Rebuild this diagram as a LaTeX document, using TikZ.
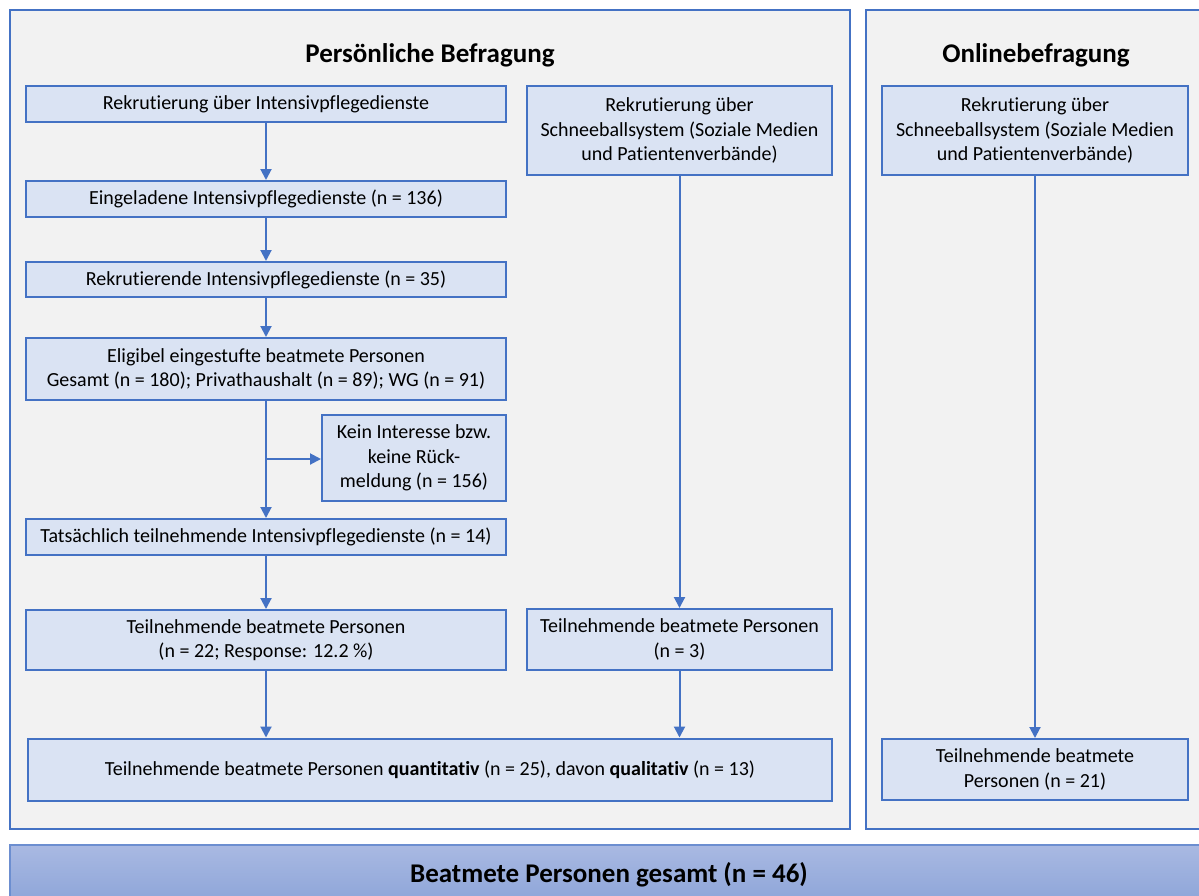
\documentclass[tikz,border=0pt]{standalone}
\usepackage{fontspec}
\setmainfont{Carlito}[Ligatures={NoCommon}]
\usetikzlibrary{arrows.meta}
\definecolor{bblue}{HTML}{4472C4}
\definecolor{bfill}{HTML}{DAE3F3}
\definecolor{pfill}{HTML}{F2F2F2}
\definecolor{gtop}{HTML}{A9B9E2}
\definecolor{gbot}{HTML}{8CA4D8}
\tikzset{
  panel/.style={draw=bblue, fill=pfill, line width=2pt},
  box/.style={draw=bblue, fill=bfill, line width=2pt, inner sep=0pt, align=center,
    font=\fontsize{20}{24.4}\selectfont},
  arr/.style={draw=bblue, line width=2pt, -{Triangle[length=11pt,width=11pt]}},
  ttl/.style={font=\fontsize{27}{32}\selectfont\bfseries}
}
\begin{document}
\begin{tikzpicture}[x=1pt,y=-1pt]
\useasboundingbox (0,0) rectangle (1199,895);
% panels
\draw[panel] (10,10) rectangle (850,829);
\draw[panel] (866,10) rectangle (1210,829);
\shade[top color=gtop, bottom color=gbot] (10,845) rectangle (1210,905);
\draw[draw=bblue!60!gtop, line width=1.5pt] (10,905) -- (10,845) -- (1210,845);
\node[ttl] (t1) at (430,55) {Persönliche Befragung};
\node[ttl] (t2) at (1036,55) {Onlinebefragung};
\node[ttl] (t3) at (609,875) {Beatmete Personen gesamt (n = 46)};
% left column
\node[box, minimum width=480, minimum height=36] (a1) at (266,104) {Rekrutierung über Intensivpflegedienste};
\node[box, minimum width=480, minimum height=36] (a2) at (266,199) {Eingeladene Intensivpflegedienste (n = 136)};
\node[box, minimum width=480, minimum height=35] (a3) at (266,279.5) {Rekrutierende Intensivpflegedienste (n = 35)};
\node[box, minimum width=480, minimum height=62] (a4) at (266,369) {Eligibel eingestufte beatmete Personen\\Gesamt (n = 180); Privathaushalt (n = 89); WG (n = 91)};
\node[box, minimum width=184, minimum height=86] (a5) at (414,458) {Kein Interesse bzw.\\keine Rück-\\meldung (n = 156)};
\node[box, minimum width=480, minimum height=36] (a6) at (266,537) {Tatsächlich teilnehmende Intensivpflegedienste (n = 14)};
\node[box, minimum width=480, minimum height=60] (a7) at (266,640) {Teilnehmende beatmete Personen\\(n = 22; Response: 12.2 \%)};
% middle column
\node[box, minimum width=305, minimum height=89] (b1) at (679.5,130.5) {Rekrutierung über\\Schneeballsystem (Soziale Medien\\und Patientenverbände)};
\node[box, minimum width=305, minimum height=61] (b2) at (679.5,639.5) {Teilnehmende beatmete Personen\\(n = 3)};
\node[box, minimum width=804, minimum height=62] (q) at (430,769.5) {Teilnehmende beatmete Personen \textbf{quantitativ} (n = 25), davon \textbf{qualitativ} (n = 13)};
% right column
\node[box, minimum width=306, minimum height=89] (c1) at (1035,130.5) {Rekrutierung über\\Schneeballsystem (Soziale Medien\\und Patientenverbände)};
\node[box, minimum width=306, minimum height=61] (c2) at (1035,769.5) {Teilnehmende beatmete\\Personen (n = 21)};
% arrows
\draw[arr] (a1.south) -- (a2.north);
\draw[arr] (a2.south) -- (a3.north);
\draw[arr] (a3.south) -- (a4.north);
\draw[arr] (a4.south) -- (a6.north);
\coordinate (br) at (266,459);
\draw[arr] (br) -- (br -| a5.west);
\draw[arr] (a6.south) -- (a7.north);
\draw[arr] (a7.south) -- (a7.south |- q.north);
\draw[arr] (b1.south) -- (b2.north);
\draw[arr] (b2.south) -- (b2.south |- q.north);
\draw[arr] (c1.south) -- (c2.north);
\end{tikzpicture}
\end{document}
